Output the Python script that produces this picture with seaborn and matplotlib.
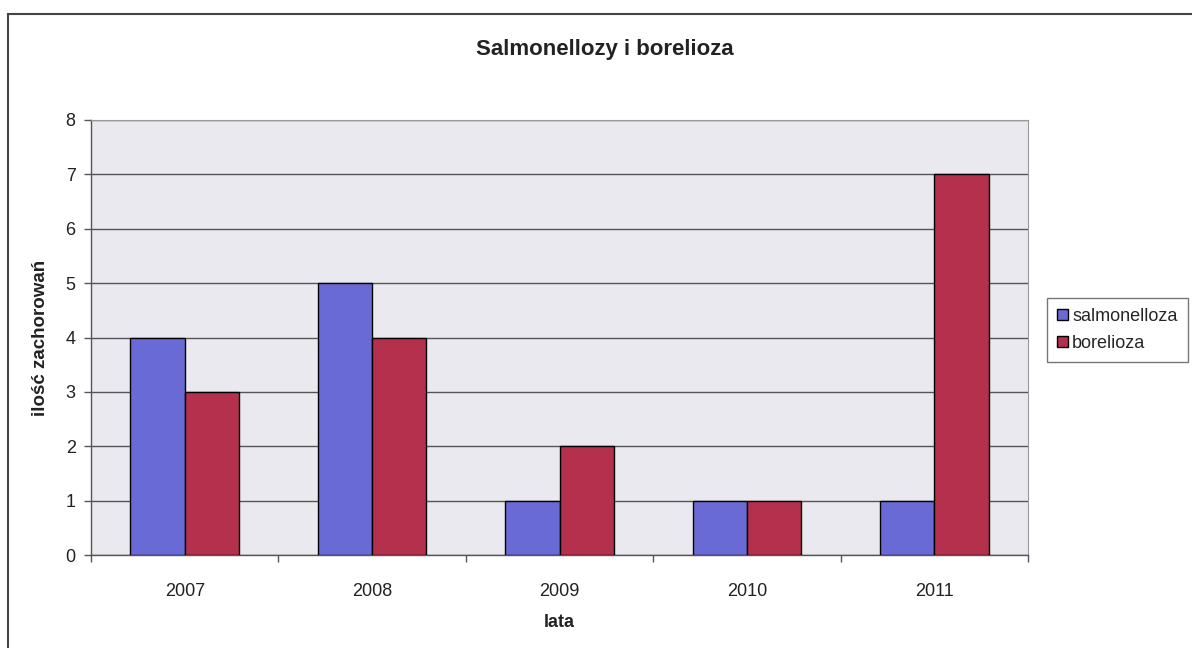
import matplotlib
matplotlib.use("Agg")
import matplotlib.pyplot as plt
import seaborn as sns
import pandas as pd
from matplotlib.patches import Rectangle
from matplotlib.ticker import FixedLocator

years = ["2007", "2008", "2009", "2010", "2011"]
salmonelloza = [4, 5, 1, 1, 1]
borelioza = [3, 4, 2, 1, 7]
series_names = ["salmonelloza", "borelioza"]

df = pd.DataFrame({
    "lata": years * 2,
    "value": salmonelloza + borelioza,
    "series": [series_names[0]] * len(years) + [series_names[1]] * len(years),
})

sns.set_theme(style="white")
plt.rcParams['font.family'] = ['Liberation Sans', 'DejaVu Sans']

fig = plt.figure(figsize=(11.92, 6.48), dpi=100)
ax = fig.add_axes([91/1192, 1 - 555/648, (1028-91)/1192, (555-120)/648])

palette = {"salmonelloza": "#6a6ad6", "borelioza": "#b4304c"}
sns.barplot(data=df, x="lata", y="value", hue="series", palette=palette,
            width=0.58, edgecolor="black", linewidth=1.0, saturation=1,
            ax=ax, legend=True, zorder=3)

ax.set_facecolor("#e9e9ef")
ax.set_ylim(0, 8)
ax.set_yticks(range(0, 9))
ax.set_xlim(-0.5, 4.5)
ax.yaxis.grid(True, color="#555555", linewidth=1.0, zorder=0)
ax.set_axisbelow(True)
for s in ["top", "right"]:
    ax.spines[s].set_color("#999999")
    ax.spines[s].set_linewidth(0.8)
for s in ["left", "bottom"]:
    ax.spines[s].set_color("#555555")
    ax.spines[s].set_linewidth(1.0)

ax.tick_params(axis="y", left=True, length=5, width=1, color="#555555",
               labelsize=13, pad=6, labelcolor="#222222")
ax.set_xticks(range(len(years)))
ax.set_xticklabels(years)
ax.tick_params(axis="x", bottom=False, labelsize=13, pad=14, labelcolor="#222222")
ax.xaxis.set_minor_locator(FixedLocator([-0.5 + i for i in range(6)]))
ax.tick_params(axis="x", which="minor", bottom=True, length=5, width=1, color="#555555")

ax.set_xlabel("lata", fontsize=13, fontweight="bold", labelpad=10, color="#222222")
ax.set_ylabel("ilość zachorowań", fontsize=13.5, fontweight="bold", labelpad=12, color="#222222")
fig.text(605/1192, 1 - 50/648, "Salmonellozy i borelioza", fontsize=16,
         fontweight="bold", color="#222222", ha="center", va="center")

leg = ax.legend(loc="upper left", bbox_to_anchor=(1047/1192, 1 - 298/648),
                bbox_transform=fig.transFigure, frameon=True, fontsize=13,
                handlelength=0.6, handleheight=0.6, handletextpad=0.25,
                borderpad=0.55, labelspacing=0.55, borderaxespad=0,
                fancybox=False, title=None)
leg.get_frame().set_edgecolor("#555555")
leg.get_frame().set_linewidth(1.0)

fig.patches.append(Rectangle((8/1192, -0.01), 1.02, 1 - 14/648 + 0.01,
                             transform=fig.transFigure, fill=False,
                             edgecolor="#444444", linewidth=1.5))

fig.savefig("out.png", dpi=100)
